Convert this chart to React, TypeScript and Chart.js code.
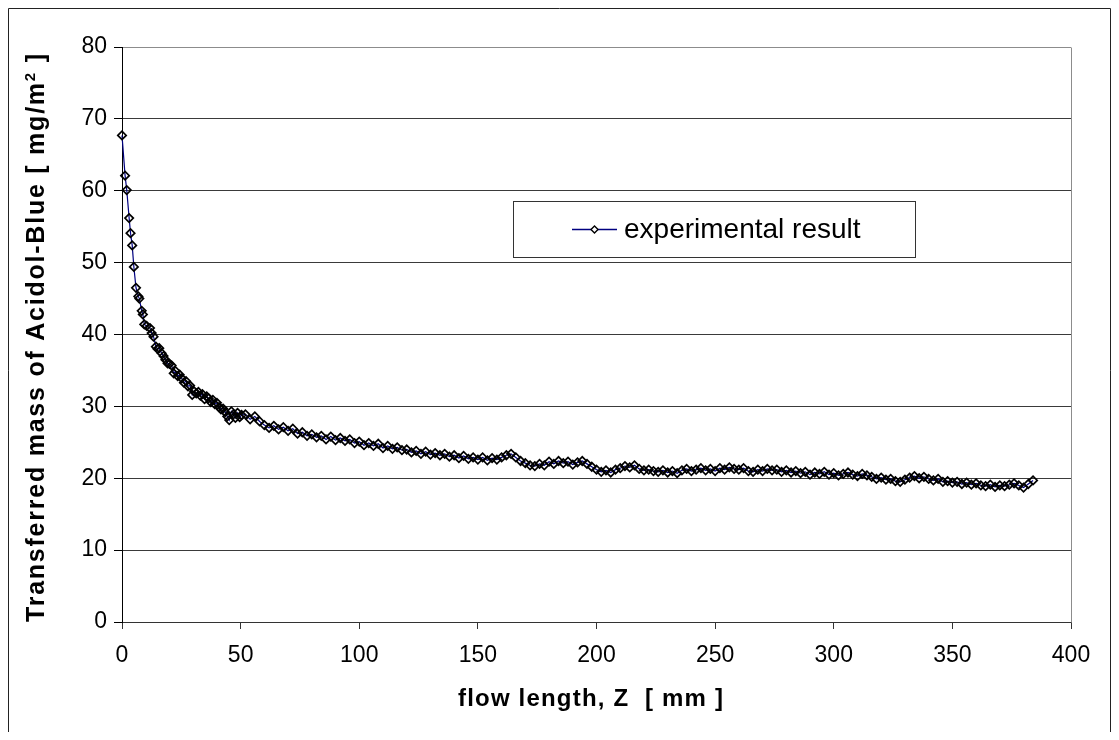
import React, { useEffect, useRef } from "react";
import { Chart, registerables } from "chart.js";

Chart.register(...registerables);

// flow length Z [mm], transferred mass [mg/m2] — steep entrance region
const earlyPoints: [number, number][] = [
  [0, 67.7], [1.3, 62.1], [2, 60.1], [3, 56.2], [3.6, 54.1], [4.3, 52.4], [5, 49.4], [5.9, 46.5],
  [6.9, 45.3], [7.3, 45.0], [8.3, 43.3], [8.8, 42.8], [9.4, 41.4], [10.4, 41.2], [11.8, 40.9],
  [12.5, 40.2], [13.3, 39.7], [14.3, 38.3], [15, 38.0], [15.7, 38.1], [16.7, 37.4], [17.5, 37.0],
  [18.3, 36.5], [19.2, 36.0], [20, 35.9], [20.9, 35.7], [21.8, 34.6], [22.6, 34.9], [23.5, 34.2],
  [24.3, 34.4], [25.2, 33.9], [26.1, 33.3], [27, 33.5], [27.8, 32.8], [28.7, 32.9], [29.6, 31.6],
  [30.4, 32.1], [31.3, 31.8], [32.2, 32.0], [33, 31.5], [33.9, 31.7], [34.8, 31.0], [35.7, 31.4],
  [36.5, 31.1], [37.4, 30.6], [38.3, 30.9], [39.1, 30.3], [40, 30.5], [40.9, 29.9], [41.7, 29.6],
  [42.6, 29.7], [43.5, 29.2], [44.4, 28.6], [45.2, 28.1], [46.1, 29.3], [47, 28.9], [47.8, 28.4],
  [48.7, 29.1], [49.6, 28.5], [50.4, 28.8],
];

// slowly decaying plateau region
const plateauPoints: [number, number][] = [
  [52, 28.9], [54, 28.2], [56, 28.6], [58, 27.9], [60, 27.4], [62, 27.0], [64, 27.3], [66, 26.8],
  [68, 27.1], [70, 26.6], [72, 26.9], [74, 26.2], [76, 26.4], [78, 25.9], [80, 26.1], [82, 25.7],
  [84, 25.9], [86, 25.4], [88, 25.8], [90, 25.3], [92, 25.6], [94, 25.2], [96, 25.4], [98, 24.9],
  [100, 25.1], [102, 24.6], [104, 24.9], [106, 24.5], [108, 24.8], [110, 24.2], [112, 24.5],
  [114, 24.1], [116, 24.3], [118, 23.9], [120, 24.0], [122, 23.6], [124, 23.8], [126, 23.4],
  [128, 23.7], [130, 23.3], [132, 23.5], [134, 23.2], [136, 23.4], [138, 23.0], [140, 23.2],
  [142, 22.8], [144, 23.1], [146, 22.7], [148, 22.9], [150, 22.6], [152, 22.9], [154, 22.5],
  [156, 22.8], [158, 22.6], [160, 22.9], [162, 23.2], [164, 23.4], [166, 22.9], [168, 22.4],
  [170, 22.1], [172, 21.8], [174, 21.7], [176, 22.0], [178, 21.8], [180, 22.3], [182, 22.0],
  [184, 22.4], [186, 22.1], [188, 22.3], [190, 21.9], [192, 22.2], [194, 22.4], [196, 22.0],
  [198, 21.6], [200, 21.2], [202, 20.9], [204, 21.1], [206, 20.8], [208, 21.2], [210, 21.4],
  [212, 21.7], [214, 21.5], [216, 21.8], [218, 21.3], [220, 21.1], [222, 21.2], [224, 21.0],
  [226, 20.9], [228, 21.1], [230, 20.8], [232, 21.0], [234, 20.7], [236, 21.1], [238, 21.3],
  [240, 21.0], [242, 21.2], [244, 21.4], [246, 21.1], [248, 21.3], [250, 21.0], [252, 21.4],
  [254, 21.2], [256, 21.5], [258, 21.3], [260, 21.2], [262, 21.4], [264, 21.0], [266, 20.9],
  [268, 21.2], [270, 21.0], [272, 21.3], [274, 21.1], [276, 21.2], [278, 20.9], [280, 21.1],
  [282, 20.8], [284, 21.0], [286, 20.7], [288, 20.9], [290, 20.5], [292, 20.8], [294, 20.6],
  [296, 20.9], [298, 20.5], [300, 20.7], [302, 20.4], [304, 20.6], [306, 20.8], [308, 20.5],
  [310, 20.3], [312, 20.6], [314, 20.4], [316, 20.2], [318, 19.9], [320, 20.1], [322, 19.8],
  [324, 19.9], [326, 19.6], [328, 19.5], [330, 19.8], [332, 20.1], [334, 20.3], [336, 20.0],
  [338, 20.2], [340, 19.9], [342, 19.7], [344, 19.9], [346, 19.5], [348, 19.6], [350, 19.4],
  [352, 19.5], [354, 19.2], [356, 19.4], [358, 19.1], [360, 19.3], [362, 19.0], [364, 18.9],
  [366, 19.1], [368, 18.8], [370, 19.0], [372, 18.9], [374, 19.1], [376, 19.3], [378, 19.0],
  [380, 18.7], [382, 19.2], [384, 19.7],
];

const xRange = [0, 400];
const xStep = 50;
const yRange = [0, 80];
const yStep = 10;

const seriesLabel = "experimental result";
const xTitle = "flow length, Z  [ mm ]";
const yTitleParts = ["Transferred mass of Acidol-Blue [ mg/m", "2", " ]"];

const FONT = "'Liberation Sans', Arial, Helvetica, sans-serif";

function drawSpaced(ctx: CanvasRenderingContext2D, parts: { text: string; font: string; dy: number }[], target: number, cx: number, baseY: number) {
  const c: any = ctx;
  c.letterSpacing = "0px";
  let natural = 0;
  let chars = 0;
  for (const p of parts) {
    ctx.font = p.font;
    natural += ctx.measureText(p.text).width;
    chars += p.text.length;
  }
  const sp = Math.max(0, (target - natural) / Math.max(1, chars - 1));
  c.letterSpacing = sp + "px";
  let x = cx - target / 2;
  ctx.textAlign = "left";
  ctx.textBaseline = "alphabetic";
  for (const p of parts) {
    ctx.font = p.font;
    ctx.fillText(p.text, x, baseY + p.dy);
    x += ctx.measureText(p.text).width;
  }
  c.letterSpacing = "0px";
}

const decorPlugin = {
  id: "decor",
  afterDraw(chart: any) {
    const { ctx, chartArea: a, width, height } = chart;
    ctx.save();
    // outer frame
    ctx.strokeStyle = "#222";
    ctx.lineWidth = 1;
    ctx.beginPath();
    ctx.moveTo(0.5, height);
    ctx.lineTo(0.5, 0.5);
    ctx.lineTo(width - 0.5, 0.5);
    ctx.lineTo(width - 0.5, height);
    ctx.stroke();
    // right plot border
    ctx.strokeStyle = "#8c8c8c";
    const rx = Math.round(a.right) + 0.5;
    ctx.beginPath();
    ctx.moveTo(rx, Math.round(a.top) + 0.5);
    ctx.lineTo(rx, Math.round(a.bottom) + 0.5);
    ctx.stroke();

    // legend box
    const lx = 505, ly = 193, lw = 402, lh = 56;
    ctx.fillStyle = "#fff";
    ctx.fillRect(lx, ly, lw, lh);
    ctx.strokeStyle = "#333";
    ctx.lineWidth = 1;
    ctx.strokeRect(lx + 0.5, ly + 0.5, lw, lh);
    ctx.strokeStyle = "#000080";
    ctx.lineWidth = 1.3;
    ctx.beginPath();
    ctx.moveTo(564, 221.5);
    ctx.lineTo(609, 221.5);
    ctx.stroke();
    ctx.beginPath();
    ctx.moveTo(586.5, 218);
    ctx.lineTo(590, 221.5);
    ctx.lineTo(586.5, 225);
    ctx.lineTo(583, 221.5);
    ctx.closePath();
    ctx.fillStyle = "#fff";
    ctx.fill();
    ctx.strokeStyle = "#000";
    ctx.lineWidth = 1.4;
    ctx.stroke();
    ctx.fillStyle = "#000";
    ctx.font = `28px ${FONT}`;
    ctx.textAlign = "left";
    ctx.textBaseline = "alphabetic";
    ctx.fillText(seriesLabel, 616, 230);

    // x title
    ctx.fillStyle = "#000";
    drawSpaced(ctx, [{ text: xTitle, font: `bold 24px ${FONT}`, dy: 0 }], 265, 582.5, 698);

    // y title (rotated)
    ctx.save();
    ctx.translate(36, 330);
    ctx.rotate(-Math.PI / 2);
    drawSpaced(
      ctx,
      [
        { text: yTitleParts[0], font: `bold 25px ${FONT}`, dy: 0 },
        { text: yTitleParts[1], font: `bold 15px ${FONT}`, dy: -9 },
        { text: yTitleParts[2], font: `bold 25px ${FONT}`, dy: 0 },
      ],
      568,
      0,
      0
    );
    ctx.restore();
    ctx.restore();
  },
};

export default function App() {
  const ref = useRef<HTMLCanvasElement | null>(null);
  useEffect(() => {
    if (!ref.current) return;
    Chart.defaults.font.family = FONT;
    const points = [...earlyPoints, ...plateauPoints].map(([x, y]) => ({ x, y }));
    const chart = new Chart(ref.current, {
      type: "scatter",
      data: {
        datasets: [
          {
            label: seriesLabel,
            data: points,
            showLine: true,
            borderColor: "#000080",
            borderWidth: 1.2,
            pointStyle: "rectRot",
            pointRadius: 4.2,
            pointBorderColor: "#000",
            pointBorderWidth: 1.7,
            pointBackgroundColor: "rgba(255,255,255,0)",
            clip: false as any,
          },
        ],
      },
      options: {
        responsive: false,
        maintainAspectRatio: false,
        animation: false,
        events: [],
        layout: { padding: { top: 39, right: 40, left: 0, bottom: 0 } },
        plugins: { legend: { display: false }, tooltip: { enabled: false } },
        scales: {
          x: {
            type: "linear",
            min: xRange[0],
            max: xRange[1],
            ticks: { stepSize: xStep, color: "#000", font: { size: 23 }, padding: 13, maxRotation: 0 },
            grid: { drawOnChartArea: false, tickLength: 7, tickColor: "#333", lineWidth: 1 },
            border: { color: "#333", width: 1 },
            afterFit: (s: any) => {
              s.height = 110;
            },
          },
          y: {
            type: "linear",
            min: yRange[0],
            max: yRange[1],
            ticks: { stepSize: yStep, color: "#000", font: { size: 23 }, padding: 7 },
            grid: {
              color: (c: any) => (c.tick && c.tick.value === yRange[1] ? "#8c8c8c" : "#3a3a3a"),
              tickColor: "#000",
              tickLength: 8,
              lineWidth: 1,
            },
            border: { color: "#000", width: 1 },
            afterFit: (s: any) => {
              s.width = 114;
            },
          },
        },
      },
      plugins: [decorPlugin],
    });
    return () => chart.destroy();
  }, []);
  return (
    <div style={{ width: 1103, height: 724 }}>
      <canvas ref={ref} width={1103} height={724} style={{ display: "block" }} />
    </div>
  );
}
